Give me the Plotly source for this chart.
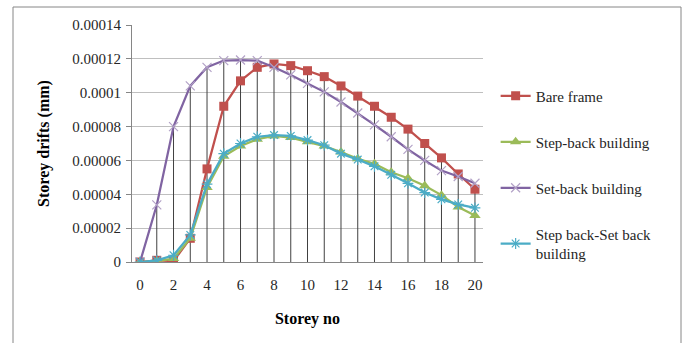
import plotly.graph_objects as go

storey = list(range(21))
bare_frame = [0, 0.1e-5, 0.05e-5, 1.40e-5, 5.5e-5, 9.2e-5, 10.7e-5, 11.5e-5, 11.7e-5, 11.6e-5, 11.3e-5,
              10.95e-5, 10.4e-5, 9.8e-5, 9.2e-5, 8.55e-5, 7.85e-5, 7.0e-5, 6.15e-5, 5.2e-5, 4.3e-5]
step_back = [0, 0.05e-5, 0.2e-5, 1.4e-5, 4.4e-5, 6.25e-5, 6.85e-5, 7.25e-5, 7.45e-5, 7.35e-5, 7.1e-5,
             6.85e-5, 6.5e-5, 6.1e-5, 5.8e-5, 5.3e-5, 4.95e-5, 4.5e-5, 3.95e-5, 3.25e-5, 2.75e-5]
set_back = [0, 3.37e-5, 8.0e-5, 10.4e-5, 11.5e-5, 11.9e-5, 11.93e-5, 11.9e-5, 11.5e-5, 11.05e-5, 10.55e-5,
            10.05e-5, 9.45e-5, 8.8e-5, 8.1e-5, 7.4e-5, 6.65e-5, 6.0e-5, 5.4e-5, 5.05e-5, 4.65e-5]
step_set_back = [0, 0.1e-5, 0.4e-5, 1.6e-5, 4.6e-5, 6.4e-5, 7.0e-5, 7.4e-5, 7.5e-5, 7.45e-5, 7.2e-5,
                 6.9e-5, 6.4e-5, 6.05e-5, 5.65e-5, 5.15e-5, 4.65e-5, 4.1e-5, 3.7e-5, 3.4e-5, 3.2e-5]
y_ticks = [0, 0.00002, 0.00004, 0.00006, 0.00008, 0.0001, 0.00012, 0.00014]
y_ticktext = ["0", "0.00002", "0.00004", "0.00006", "0.00008", "0.0001", "0.00012", "0.00014"]
x_ticks = list(range(0, 21, 2))

FONT = "Liberation Serif"

fig = go.Figure()

# drop lines from highest point at each storey to the axis
dx, dy = [], []
for i, s in enumerate(storey):
    top = max(bare_frame[i], step_back[i], set_back[i], step_set_back[i])
    dx += [s, s, None]
    dy += [0, top, None]
fig.add_trace(go.Scatter(x=dx, y=dy, mode="lines", line=dict(color="#404040", width=1),
                         showlegend=False, hoverinfo="skip"))

fig.add_trace(go.Scatter(x=storey, y=bare_frame, name="Bare frame", mode="lines+markers",
                         legendgroup="a",
                         line=dict(color="#C0504D", width=2.25),
                         marker=dict(symbol="square", size=9, color="#C0504D")))
fig.add_trace(go.Scatter(x=storey, y=step_back, name="Step-back building", mode="lines+markers",
                         legendgroup="b",
                         line=dict(color="#9BBB59", width=2.25),
                         marker=dict(symbol="triangle-up", size=10, color="#9BBB59")))
fig.add_trace(go.Scatter(x=storey, y=set_back, name="Set-back building", mode="lines+markers",
                         legendgroup="c",
                         line=dict(color="#8064A2", width=2.25),
                         marker=dict(symbol="x-thin", size=9, line=dict(color="#B3A2C7", width=1.2))))
fig.add_trace(go.Scatter(x=storey, y=step_set_back, name="Step back-Set back<br>building",
                         mode="lines+markers", legendgroup="d",
                         line=dict(color="#4BACC6", width=2.25),
                         marker=dict(symbol="asterisk-open", size=9, line=dict(color="#93CDDD", width=1.2))))

fig.update_layout(
    width=686, height=343,
    margin=dict(l=132, r=203, t=25, b=81),
    paper_bgcolor="white", plot_bgcolor="white",
    font=dict(family=FONT, size=15, color="#262626"),
    showlegend=True,
    legend=dict(x=1.036, y=0.77, xanchor="left", yanchor="top", tracegroupgap=23.5,
                font=dict(family=FONT, size=15, color="#262626"), itemwidth=30,
                bgcolor="rgba(0,0,0,0)"),
    xaxis=dict(range=[-0.48, 20.48], tickmode="array", tickvals=x_ticks,
               showgrid=False, zeroline=False, showline=True, linecolor="#868686", linewidth=1,
               ticks="", ticklabelstandoff=9, tickfont=dict(family=FONT, size=15, color="#262626"),
               title=dict(text="<b>Storey no</b>", font=dict(family=FONT, size=16, color="#000"), standoff=20)),
    yaxis=dict(range=[0, 0.00014], tickmode="array", tickvals=y_ticks, ticktext=y_ticktext,
               showgrid=True, gridcolor="#BFBFBF", gridwidth=1.3, zeroline=False,
               showline=True, linecolor="#868686", linewidth=1,
               ticks="outside", ticklen=5, tickcolor="#868686", ticklabelstandoff=2,
               tickfont=dict(family=FONT, size=15, color="#262626"),
               title=dict(text="<b>Storey drifts (mm)</b>", font=dict(family=FONT, size=16, color="#000"), standoff=18)),
    shapes=[dict(type="rect", xref="paper", yref="paper",
                 x0=(13 - 132) / 351, x1=(681 - 132) / 351, y0=(262 - 350) / 237, y1=(262 - 7) / 237,
                 line=dict(color="#868686", width=1), fillcolor="rgba(0,0,0,0)", layer="below")],
)

fig.write_html("out.html")
